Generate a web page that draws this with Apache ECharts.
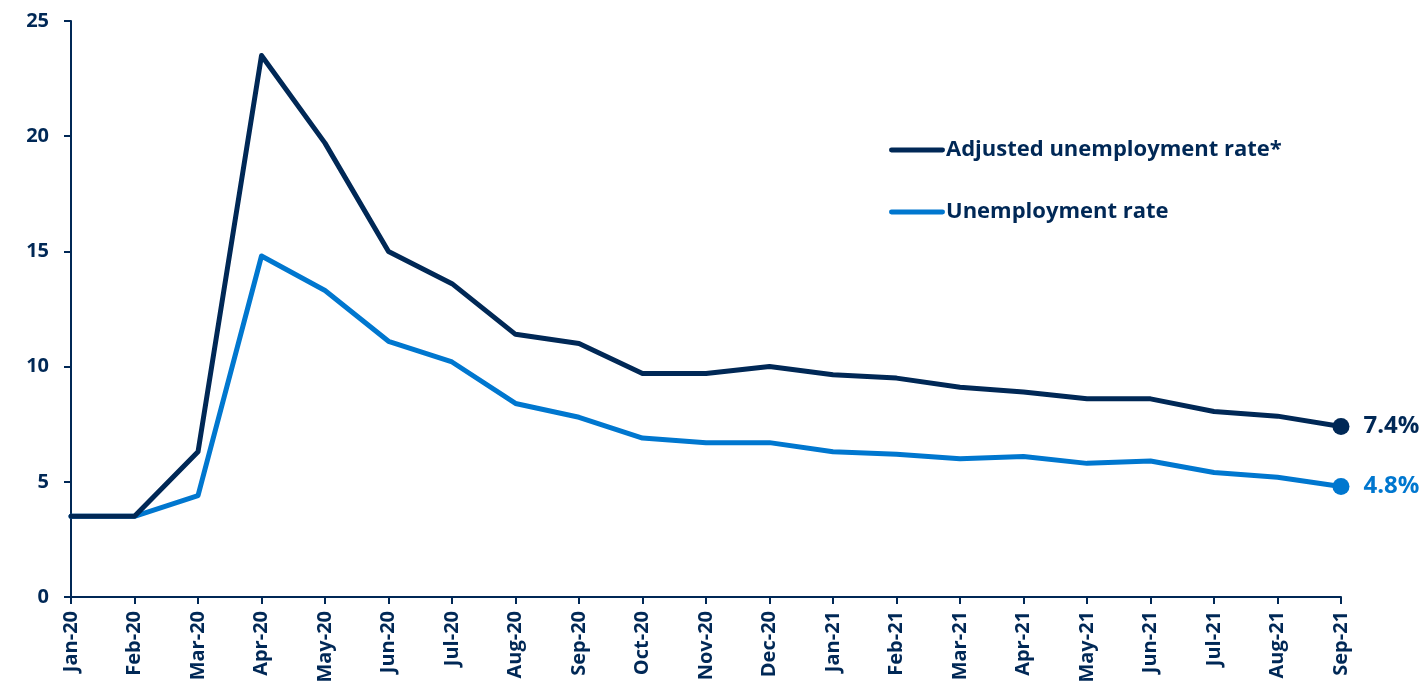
<!DOCTYPE html>
<html>
<head>
<meta charset="utf-8">
<script src="https://cdn.jsdelivr.net/npm/echarts@6/dist/echarts.min.js"></script>
<style>html,body{margin:0;padding:0;background:#fff;}#c{width:1427px;height:691px;}</style>
</head>
<body>
<div id="c"></div>
<script>
const categories = ['Jan-20','Feb-20','Mar-20','Apr-20','May-20','Jun-20','Jul-20','Aug-20','Sep-20','Oct-20','Nov-20','Dec-20','Jan-21','Feb-21','Mar-21','Apr-21','May-21','Jun-21','Jul-21','Aug-21','Sep-21'];
const adjustedRate = [3.5,3.5,6.3,23.5,19.7,15.0,13.6,11.4,11.0,9.7,9.7,10.0,9.65,9.5,9.1,8.9,8.6,8.6,8.05,7.85,7.4];
const unemploymentRate = [3.5,3.5,4.4,14.8,13.3,11.1,10.2,8.4,7.8,6.9,6.7,6.7,6.3,6.2,6.0,6.1,5.8,5.9,5.4,5.2,4.8];
const yTicks = [0,5,10,15,20,25];

const NAVY = '#002856';
const BLUE = '#0077CF';
const FONT = 'Open Sans';

function withEnd(arr, color) {
  return arr.map((v, i) => i === arr.length - 1 ? {
    value: v,
    symbol: 'circle', symbolSize: 17,
    itemStyle: {color: color},
    label: {show: true, position: 'right', distance: 14, formatter: v.toFixed(1) + '%',
      color: color, fontFamily: FONT, fontWeight: 'bold', fontSize: 24}
  } : {value: v, symbol: 'none'});
}

const chart = echarts.init(document.getElementById('c'));
chart.setOption({
  animation: false,
  grid: {left: 71, right: 86, top: 21, bottom: 94, containLabel: false},
  legend: {
    orient: 'vertical', left: 884, top: 134, itemGap: 40,
    itemWidth: 56, itemHeight: 5,
    icon: 'path://M2,0 L54,0 A2.5,2.5 0 0 1 54,5 L2,5 A2.5,2.5 0 0 1 2,0 Z',
    textStyle: {color: NAVY, fontFamily: FONT, fontWeight: 'bold', fontSize: 22, padding: [0,0,0,-4]},
    data: ['Adjusted unemployment rate*', 'Unemployment rate']
  },
  xAxis: {
    type: 'category', data: categories, boundaryGap: false,
    axisLine: {lineStyle: {color: NAVY, width: 2}},
    axisTick: {lineStyle: {color: NAVY, width: 2}, length: 7, alignWithLabel: true},
    axisLabel: {rotate: 90, color: NAVY, fontFamily: FONT, fontWeight: 'bold', fontSize: 20, margin: 14, interval: 0}
  },
  yAxis: {
    type: 'value', min: 0, max: 25, interval: 5,
    axisLine: {show: true, lineStyle: {color: NAVY, width: 2}},
    axisTick: {show: true, lineStyle: {color: NAVY, width: 2}, length: 7},
    splitLine: {show: false},
    axisLabel: {color: NAVY, fontFamily: FONT, fontWeight: 'bold', fontSize: 20, margin: 22,
      formatter: v => yTicks.includes(v) ? String(v) : ''}
  },
  series: [
    {name: 'Adjusted unemployment rate*', type: 'line', data: withEnd(adjustedRate, NAVY),
      lineStyle: {color: NAVY, width: 5, join: 'round', cap: 'round'}, itemStyle: {color: NAVY}, z: 3},
    {name: 'Unemployment rate', type: 'line', data: withEnd(unemploymentRate, BLUE),
      lineStyle: {color: BLUE, width: 5, join: 'round', cap: 'round'}, itemStyle: {color: BLUE}, z: 2}
  ]
});
</script>
</body>
</html>
